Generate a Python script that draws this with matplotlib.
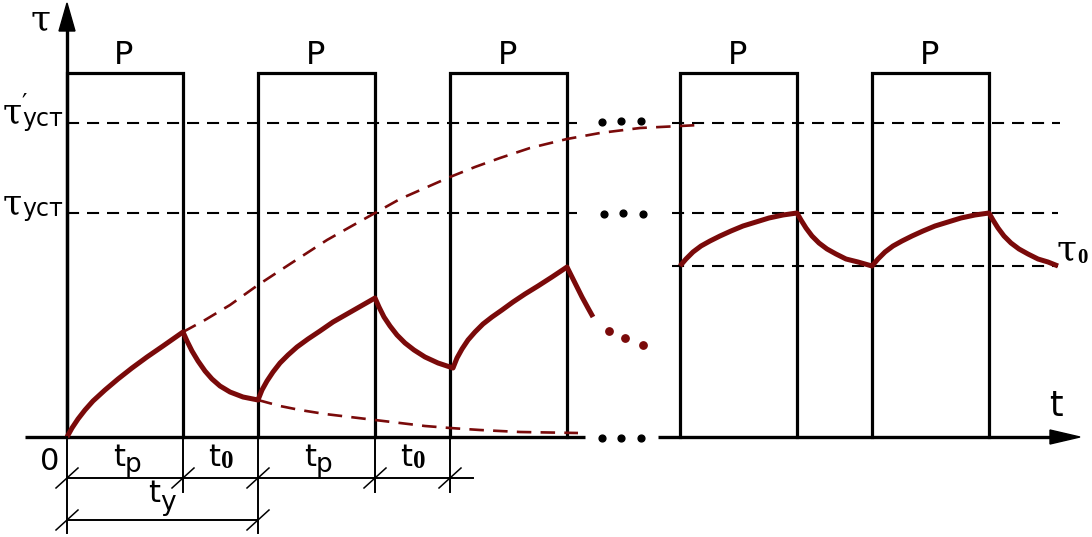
import matplotlib
matplotlib.use('Agg')
import matplotlib.pyplot as plt
from matplotlib.patches import Polygon

# всё в "пиксельных" координатах схемы (ось y вниз)
pulse_on = [67, 258, 450, 680, 872]       # начало импульса P
pulse_off = [183, 375, 567, 797, 989]     # конец импульса P
pulse_top = 73
base = 437

level_y = [123, 213, 266]   # τ'уст, τуст, τ0

# кривая нагрева/охлаждения (левая часть), точки
heat_x = [67, 72, 78, 85, 93, 105, 118, 132, 147, 163, 183,
          187, 192, 198, 205, 212, 220, 230, 243, 258,
          262, 267, 273, 280, 288, 297, 308, 320, 333, 347, 361, 375,
          379, 384, 390, 397, 405, 414, 425, 438, 453,
          457, 462, 468, 475, 483, 492, 502, 513, 525, 538, 552, 567,
          571, 576, 582, 588, 593]
heat_y = [437, 428, 419, 410, 401, 390, 379, 368, 357, 346, 332,
          341, 351, 361, 371, 379, 386, 392, 397, 400,
          390, 381, 372, 363, 355, 347, 339, 331, 322, 314, 306, 298,
          307, 317, 326, 335, 343, 350, 357, 363, 368,
          358, 349, 340, 332, 324, 317, 310, 302, 294, 286, 277, 267,
          275, 285, 297, 308, 317]

# установившийся режим (правая часть)
steady_x = [680, 686, 693, 701, 710, 720, 731, 743, 756, 769, 783, 797,
            801, 806, 812, 819, 827, 836, 846, 858, 872,
            878, 885, 893, 902, 912, 923, 935, 948, 961, 975, 989,
            993, 998, 1004, 1011, 1019, 1028, 1038, 1048, 1058]
steady_y = [266, 259, 252, 246, 241, 236, 231, 226, 222, 218, 215, 213,
            220, 228, 236, 243, 249, 254, 259, 262, 266,
            259, 252, 246, 241, 236, 231, 226, 222, 218, 215, 213,
            220, 228, 236, 243, 249, 254, 259, 262, 266]

# огибающие
upper_x = [183, 205, 230, 258, 290, 327, 350, 375, 400, 425, 450, 475,
           500, 530, 567, 600, 640, 700]
upper_y = [332, 320, 305, 285, 264, 240, 227, 213, 199, 188, 177, 167,
           158, 148, 139, 133, 128, 125]
lower_x = [258, 280, 300, 325, 350, 375, 400, 425, 450, 480, 520, 578]
lower_y = [400, 406, 410, 414, 417, 420, 423, 426, 428, 430, 432, 433]

red_dots_x = [609, 625, 643]
red_dots_y = [331, 338, 345]

dim_marks = [67, 183, 258, 375, 450]
dim_subs = ["p", "0", "p", "0"]

RED = '#7a0a0a'
SANS = 'DejaVu Sans'
TAU = 'DejaVu Serif'

fig = plt.figure(figsize=(10.92, 5.37), dpi=100)
ax = fig.add_axes([0, 0, 1, 1])
ax.set_xlim(0, 1092)
ax.set_ylim(537, 0)
ax.axis('off')

# оси
ax.plot([67, 67], [base, 28], color='k', lw=2.4, solid_capstyle='butt')
ax.add_patch(Polygon([[67, 3], [59, 31], [75, 31]], closed=True, color='k'))
ax.plot([25, 585], [base, base], color='k', lw=2.4, solid_capstyle='butt')
ax.plot([658, 1052], [base, base], color='k', lw=2.4, solid_capstyle='butt')
ax.add_patch(Polygon([[1080, base], [1050, base - 7], [1050, base + 7]], closed=True, color='k'))
ax.scatter([602, 621, 641], [438, 438, 438], s=24, color='k')

# импульсы P
for a, b in zip(pulse_on, pulse_off):
    ax.plot([a, a, b, b], [base, pulse_top, pulse_top, base], color='k', lw=2.3,
            solid_joinstyle='miter')
    ax.text((a + b) / 2 - 1, 56, 'P', fontsize=23, ha='center', va='center', family=SANS)

# уровни
dash_k = dict(color='k', lw=1.5, dashes=(5.8, 3.8))
ax.plot([67, 577], [level_y[0]] * 2, **dash_k)
ax.plot([672, 1060], [level_y[0]] * 2, **dash_k)
ax.plot([67, 577], [level_y[1]] * 2, **dash_k)
ax.plot([672, 1058], [level_y[1]] * 2, **dash_k)
ax.plot([672, 1058], [level_y[2]] * 2, **dash_k)
ax.scatter([602, 621, 641], [122, 121, 121], s=24, color='k')
ax.scatter([604, 623, 643], [214, 213, 214], s=24, color='k')

# кривые
ax.plot(heat_x, heat_y, color=RED, lw=3.6, solid_joinstyle='round', solid_capstyle='butt')
ax.plot(steady_x, steady_y, color=RED, lw=3.6, solid_joinstyle='round', solid_capstyle='butt')
ax.plot(upper_x, upper_y, color=RED, lw=1.9, dashes=(5.5, 3.5))
ax.plot(lower_x, lower_y, color=RED, lw=1.9, dashes=(5.5, 3.5))
ax.scatter(red_dots_x, red_dots_y, s=28, color=RED)

# подписи осей и уровней
ax.text(41, 19, 'τ', fontsize=26, ha='center', va='center', family=TAU)
ax.text(1056, 406, 't', fontsize=25, ha='center', va='center', family=SANS)
ax.text(12, 113, 'τ', fontsize=25, ha='center', va='center', family=TAU)
ax.text(22, 126, '′\nуст', fontsize=17, ha='left', va='baseline', family=SANS,
        linespacing=0.55)
ax.text(12, 204, 'τ', fontsize=25, ha='center', va='center', family=TAU)
ax.text(22, 216, 'уст', fontsize=17, ha='left', va='baseline', family=SANS)
ax.text(1066, 249, 'τ', fontsize=26, ha='center', va='center', family=TAU)
ax.text(1082, 258, '0', fontsize=15, ha='center', va='center', family='Liberation Serif',
        weight='bold')

# размерные линии
ax.text(50, 461, '0', fontsize=22, ha='center', va='center', family=SANS)
for x in dim_marks:
    y_end = 533 if x in (67, 258) else 492
    ax.plot([x, x], [base, y_end], color='k', lw=1.4)
    ax.plot([x - 11, x + 11], [478 + 10, 478 - 10], color='k', lw=1.1)
ax.plot([67, 473], [478, 478], color='k', lw=1.4)
ax.plot([67, 258], [520, 520], color='k', lw=1.4)
for x in (67, 258):
    ax.plot([x - 11, x + 11], [520 + 10, 520 - 10], color='k', lw=1.1)

for a, b, sub in zip(dim_marks[:-1], dim_marks[1:], dim_subs):
    cx = (a + b) / 2
    ax.text(cx - 6, 457, 't', fontsize=22, ha='center', va='center', family=SANS)
    if sub == 'p':
        ax.text(cx + 8, 465, 'p', fontsize=19, ha='center', va='center', family=SANS)
    else:
        ax.text(cx + 7, 462, '0', fontsize=18, ha='center', va='center',
                family='Liberation Serif', weight='bold')
ax.text(154, 494, 't', fontsize=22, ha='center', va='center', family=SANS)
ax.text(168, 503, 'у', fontsize=19, ha='center', va='center', family=SANS)

fig.savefig('out.png', dpi=100)
